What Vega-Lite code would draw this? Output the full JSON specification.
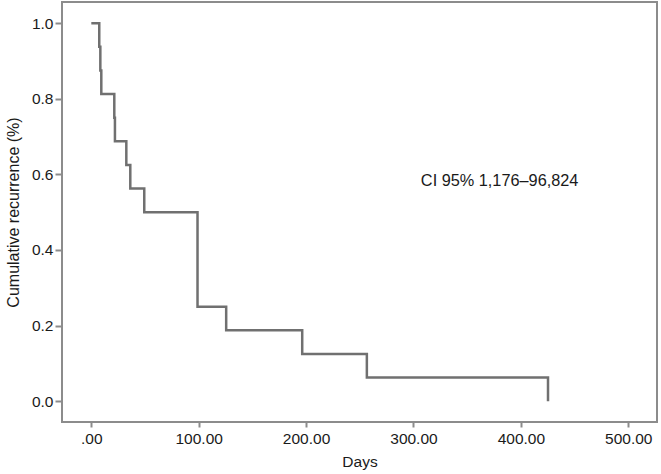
{
  "$schema": "https://vega.github.io/schema/vega-lite/v6.json",
  "width": 595,
  "height": 420,
  "autosize": "none",
  "padding": {"left": 62, "top": 2, "right": 4, "bottom": 52},
  "background": "white",
  "config": {
    "view": {"stroke": "#8c8c8c", "strokeWidth": 2},
    "font": "Liberation Sans"
  },
  "layer": [
    {
      "data": {
        "values": [
          {"days": 0, "value": 1.0},
          {"days": 7.4, "value": 0.9375},
          {"days": 8.4, "value": 0.875},
          {"days": 9.3, "value": 0.8125},
          {"days": 21.4, "value": 0.75},
          {"days": 22, "value": 0.6875},
          {"days": 32.6, "value": 0.625},
          {"days": 36.3, "value": 0.5625},
          {"days": 49.3, "value": 0.5},
          {"days": 98.9, "value": 0.25},
          {"days": 125.6, "value": 0.1875},
          {"days": 196.4, "value": 0.125},
          {"days": 256.6, "value": 0.0625},
          {"days": 425.3, "value": 0.0}
        ]
      },
      "mark": {"type": "line", "interpolate": "step-after", "color": "#707070", "strokeWidth": 2.5},
      "encoding": {
        "x": {
          "field": "days",
          "type": "quantitative",
          "scale": {"domain": [-27.3, 526.8], "nice": false, "zero": false},
          "axis": {
            "values": [0, 100, 200, 300, 400, 500],
            "labelExpr": "datum.value == 0 ? '.00' : format(datum.value, '.2f')",
            "grid": false,
            "domain": false,
            "tickColor": "#8c8c8c",
            "tickWidth": 2,
            "tickSize": 5,
            "labelFontSize": 15.5,
            "labelColor": "#1a1a1a",
            "labelPadding": 4,
            "title": "Days",
            "titleFontSize": 15.5,
            "titleFontWeight": "normal",
            "titleColor": "#1a1a1a",
            "titlePadding": 8
          }
        },
        "y": {
          "field": "value",
          "type": "quantitative",
          "scale": {"domain": [-0.055, 1.056], "nice": false, "zero": false},
          "axis": {
            "values": [0, 0.2, 0.4, 0.6, 0.8, 1.0],
            "format": ".1f",
            "grid": false,
            "domain": false,
            "tickColor": "#8c8c8c",
            "tickWidth": 2,
            "tickSize": 7,
            "labelFontSize": 15.5,
            "labelColor": "#1a1a1a",
            "labelPadding": 2,
            "title": "Cumulative recurrence (%)",
            "titleFontSize": 16,
            "titleFontWeight": "normal",
            "titleColor": "#1a1a1a",
            "titlePadding": 10
          }
        }
      }
    },
    {
      "data": {"values": [{"days": 306.9, "value": 0.569, "label": "CI 95% 1,176–96,824"}]},
      "mark": {"type": "text", "align": "left", "baseline": "alphabetic", "fontSize": 16.3, "color": "#1a1a1a"},
      "encoding": {
        "x": {"field": "days", "type": "quantitative"},
        "y": {"field": "value", "type": "quantitative"},
        "text": {"field": "label"}
      }
    }
  ]
}
